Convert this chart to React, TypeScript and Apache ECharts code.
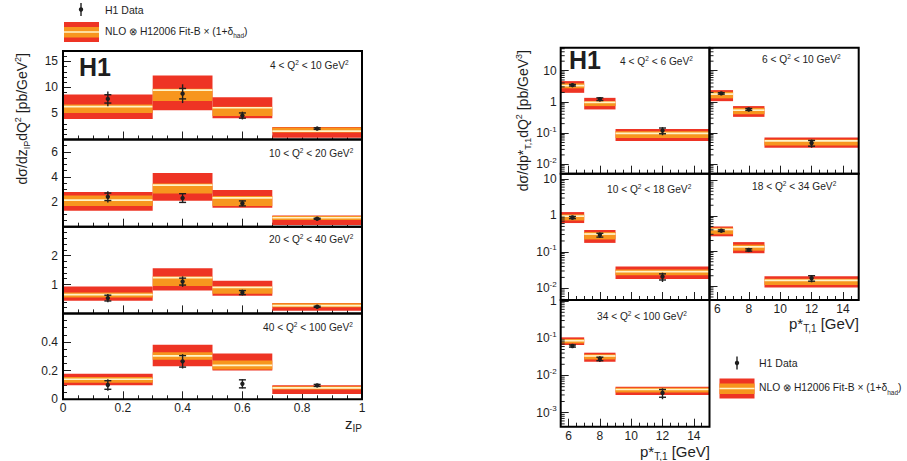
import React, { useEffect, useRef } from 'react';
import * as echarts from 'echarts';

const FONT = '"Liberation Sans", Arial, Helvetica, sans-serif';
const RED = '#ee3424';
const ORANGE = '#f7961e';
const CREAM = '#fff4c8';
const INK = '#1e1e1e';

// ---------- Left figure: d sigma / dz_IP dQ2 ----------
const zipEdges = [0, 0.3, 0.5, 0.7, 1.0];
const zipCenters = [0.15, 0.4, 0.6, 0.85];
const zipQ2Labels = [
  '4 < Q{s|2} < 10 GeV{s|2}',
  '10 < Q{s|2} < 20 GeV{s|2}',
  '20 < Q{s|2} < 40 GeV{s|2}',
  '40 < Q{s|2} < 100 GeV{s|2}',
];
const zipData = [
  [7.8, 8.8, 4.6, 2.1],
  [2.4, 2.3, 1.87, 0.64],
  [0.53, 1.1, 0.72, 0.23],
  [0.1, 0.265, 0.108, 0.097],
];
const zipStat = [
  [0.8, 1.0, 0.5, 0.15],
  [0.3, 0.35, 0.2, 0.04],
  [0.1, 0.12, 0.07, 0.02],
  [0.03, 0.04, 0.028, 0.007],
];
const zipTot = [
  [1.4, 1.8, 0.75, 0.25],
  [0.45, 0.4, 0.23, 0.06],
  [0.14, 0.18, 0.1, 0.03],
  [0.04, 0.05, 0.032, 0.009],
];
const zipRedLo = [
  [3.94, 5.6, 4.1, 0.33],
  [1.28, 2.08, 1.52, 0.14],
  [0.44, 0.79, 0.61, 0.09],
  [0.099, 0.23, 0.202, 0.037],
];
const zipRedHi = [
  [8.66, 12.3, 8.1, 2.4],
  [2.78, 4.32, 2.94, 0.9],
  [0.93, 1.56, 1.13, 0.36],
  [0.179, 0.381, 0.32, 0.099],
];
const zipOrLo = [
  [5.1, 7.4, 4.5, 1.35],
  [1.66, 2.67, 1.66, 0.54],
  [0.55, 0.95, 0.68, 0.21],
  [0.115, 0.276, 0.209, 0.069],
];
const zipOrHi = [
  [6.72, 9.77, 6.3, 2.3],
  [2.5, 3.47, 2.46, 0.86],
  [0.72, 1.28, 0.93, 0.35],
  [0.156, 0.328, 0.271, 0.092],
];
const zipNlo = [
  [6.3, 9.5, 6.1, 1.6],
  [2.14, 3.33, 2.32, 0.72],
  [0.65, 1.24, 0.9, 0.27],
  [0.14, 0.303, 0.237, 0.08],
];
const zipYMax = [17, 7, 3, 0.6];
const zipYInterval = [5, 2, 1, 0.2];
const zipYMinorSplit = [5, 4, 5, 4];

// ---------- Right figure: d sigma / dp*T,1 dQ2 ----------
const ptEdges = [5.5, 7, 9, 15];
const ptCenters = [6.25, 8, 12];
const ptQ2Labels = [
  '4 < Q{s|2} < 6 GeV{s|2}',
  '6 < Q{s|2} < 10 GeV{s|2}',
  '10 < Q{s|2} < 18 GeV{s|2}',
  '18 < Q{s|2} < 34 GeV{s|2}',
  '34 < Q{s|2} < 100 GeV{s|2}',
];
const ptData = [
  [3.4, 1.22, 0.12],
  [1.86, 0.57, 0.048],
  [0.88, 0.29, 0.021],
  [0.38, 0.108, 0.017],
  [0.062, 0.028, 0.0034],
];
const ptStat = [
  [0.2, 0.12, 0.025],
  [0.1, 0.04, 0.01],
  [0.06, 0.035, 0.004],
  [0.02, 0.008, 0.003],
  [0.004, 0.003, 0.0008],
];
const ptTot = [
  [0.35, 0.2, 0.035],
  [0.18, 0.07, 0.014],
  [0.1, 0.05, 0.006],
  [0.03, 0.013, 0.004],
  [0.006, 0.005, 0.0011],
];
const ptRedLo = [
  [1.94, 0.57, 0.056],
  [1.05, 0.33, 0.034],
  [0.62, 0.177, 0.018],
  [0.263, 0.087, 0.0093],
  [0.066, 0.0234, 0.003],
];
const ptRedHi = [
  [4.6, 1.34, 0.136],
  [2.37, 0.73, 0.072],
  [1.24, 0.4, 0.04],
  [0.5, 0.18, 0.0193],
  [0.106, 0.041, 0.005],
];
const ptOrLo = [
  [2.7, 0.73, 0.07],
  [1.29, 0.4, 0.04],
  [0.73, 0.22, 0.023],
  [0.3, 0.103, 0.011],
  [0.073, 0.027, 0.0035],
];
const ptOrHi = [
  [3.9, 1.05, 0.115],
  [2.09, 0.64, 0.062],
  [1.07, 0.35, 0.033],
  [0.46, 0.152, 0.0163],
  [0.096, 0.037, 0.0047],
];
const ptNlo = [
  [3.3, 0.96, 0.097],
  [1.77, 0.54, 0.056],
  [0.96, 0.31, 0.029],
  [0.41, 0.132, 0.0147],
  [0.086, 0.0335, 0.0042],
];
const ptYMin = [0.005, 0.005, 0.0048, 0.0041, 0.00042];
const ptYMax = [54, 54, 14, 15.7, 1.07];

// ---------- layout ----------
const LEFT_X0 = 63;
const LEFT_W = 299;
const LEFT_ROWS = [51, 139.5, 226.7, 313.4, 399.3];
const RIGHT_COLS = [560.7, 709.5, 858.7];
const RIGHT_ROWS = [47.7, 173.7, 300, 426.7];
const RIGHT_PANELS = [
  { row: 0, col: 0 },
  { row: 0, col: 1 },
  { row: 1, col: 0 },
  { row: 1, col: 1 },
  { row: 2, col: 0 },
];
const RIGHT_LABEL_POS = [
  [620, 61],
  [762, 59],
  [607, 189],
  [752, 186],
  [597, 316],
];
const LEFT_LABEL_POS = [
  [270, 65],
  [269, 153],
  [269, 239],
  [263, 327],
];

const supRich = {
  n: { fontSize: 10.2, fontFamily: FONT, fill: INK, color: INK, lineHeight: 13 },
  s: { fontSize: 6.5, fontFamily: FONT, fill: INK, color: INK, verticalAlign: 'top', lineHeight: 13 },
};

function bandItem(params: any, api: any) {
  const x0 = api.value(0);
  const x1 = api.value(1);
  const a = api.coord([x0, api.value(3)]);
  const b = api.coord([x1, api.value(2)]);
  const c = api.coord([x0, api.value(5)]);
  const d = api.coord([x1, api.value(4)]);
  const e = api.coord([x0, api.value(6)]);
  const f = api.coord([x1, api.value(6)]);
  return {
    type: 'group',
    children: [
      { type: 'rect', shape: { x: a[0], y: a[1], width: b[0] - a[0], height: b[1] - a[1] }, style: { fill: RED } },
      { type: 'rect', shape: { x: c[0], y: c[1], width: d[0] - c[0], height: d[1] - c[1] }, style: { fill: ORANGE } },
      { type: 'line', shape: { x1: e[0], y1: e[1], x2: f[0], y2: f[1] }, style: { stroke: CREAM, lineWidth: 1.7 } },
    ],
  };
}

function errItem(params: any, api: any) {
  const x = api.value(0);
  const c = api.coord([x, api.value(1)]);
  const sLo = api.coord([x, api.value(2)]);
  const sHi = api.coord([x, api.value(3)]);
  const tLo = api.coord([x, api.value(4)]);
  const tHi = api.coord([x, api.value(5)]);
  const w = 3.5;
  const st = { stroke: INK, lineWidth: 1.4 };
  return {
    type: 'group',
    children: [
      { type: 'line', shape: { x1: tLo[0], y1: tLo[1], x2: tHi[0], y2: tHi[1] }, style: st },
      { type: 'line', shape: { x1: sLo[0] - w, y1: sLo[1], x2: sLo[0] + w, y2: sLo[1] }, style: st },
      { type: 'line', shape: { x1: sHi[0] - w, y1: sHi[1], x2: sHi[0] + w, y2: sHi[1] }, style: st },
      { type: 'circle', shape: { cx: c[0], cy: c[1], r: 2.2 }, style: { fill: INK } },
    ],
  };
}

function minorTickItem(params: any, api: any) {
  const p = api.coord([api.value(0), api.value(1)]);
  return { type: 'line', shape: { x1: p[0], y1: p[1], x2: p[0] + 4, y2: p[1] }, style: { stroke: INK, lineWidth: 1 } };
}

function logLabel(v: number) {
  const e = Math.log10(v);
  const r = Math.round(e);
  if (Math.abs(e - r) > 1e-6) return '';
  if (r === 0) return '{n|1}';
  if (r === 1) return '{n|10}';
  return '{n|10}{s|' + r + '}';
}

function buildOption() {
  const grid: any[] = [];
  const xAxis: any[] = [];
  const yAxis: any[] = [];
  const series: any[] = [];
  const graphic: any[] = [];

  const tickStyle = { color: INK, width: 1 };
  const labelBase = { fontFamily: FONT, fontSize: 12, color: INK };

  // ----- left panels -----
  for (let p = 0; p < 4; p++) {
    const top = LEFT_ROWS[p];
    const h = LEFT_ROWS[p + 1] - LEFT_ROWS[p];
    grid.push({ left: LEFT_X0, top, width: LEFT_W, height: h });
    const gi = grid.length - 1;
    const isBottom = p === 3;
    xAxis.push({
      gridIndex: gi, type: 'value', min: 0, max: 1, interval: 0.2,
      axisLine: { show: false },
      axisTick: { inside: true, length: 8, lineStyle: tickStyle },
      minorTick: { show: true, splitNumber: 4, length: 4, lineStyle: tickStyle },
      splitLine: { show: false },
      axisLabel: { show: isBottom, margin: 3, ...labelBase },
    });
    const ymax = zipYMax[p];
    yAxis.push({
      gridIndex: gi, type: 'value', min: 0, max: ymax, interval: zipYInterval[p],
      axisLine: { show: false },
      axisTick: { inside: true, length: 8, lineStyle: tickStyle },
      minorTick: { show: true, splitNumber: zipYMinorSplit[p], length: 4, lineStyle: tickStyle },
      splitLine: { show: false },
      axisLabel: {
        margin: 5, ...labelBase, showMaxLabel: false,
        formatter: (v: number) => {
          if (v >= ymax - 1e-9) return '';
          if (v === 0 && !isBottom) return '';
          return String(Math.round(v * 1000) / 1000);
        },
      },
    });
    series.push({
      type: 'custom', xAxisIndex: gi, yAxisIndex: gi, silent: true, z: 2,
      renderItem: bandItem,
      encode: { x: [0, 1], y: [2, 3, 4, 5, 6] },
      data: zipCenters.map((_, i) => [zipEdges[i], zipEdges[i + 1], zipRedLo[p][i], zipRedHi[p][i], zipOrLo[p][i], zipOrHi[p][i], zipNlo[p][i]]),
    });
    series.push({
      type: 'custom', xAxisIndex: gi, yAxisIndex: gi, silent: true, z: 3,
      renderItem: errItem,
      encode: { x: 0, y: [1, 2, 3, 4, 5] },
      data: zipCenters.map((x, i) => [
        x, zipData[p][i],
        zipData[p][i] - zipStat[p][i], zipData[p][i] + zipStat[p][i],
        zipData[p][i] - zipTot[p][i], zipData[p][i] + zipTot[p][i],
      ]),
    });
    graphic.push({ type: 'rect', z: 100, silent: true, shape: { x: LEFT_X0, y: top, width: LEFT_W, height: h }, style: { fill: 'none', stroke: '#000', lineWidth: 2 } });
    graphic.push({
      type: 'text', z: 100, x: LEFT_LABEL_POS[p][0], y: LEFT_LABEL_POS[p][1],
      style: { text: zipQ2Labels[p], rich: supRich, fontSize: 10.2, fontFamily: FONT, fill: INK, verticalAlign: 'middle', align: 'left' },
    });
  }

  // ----- right panels -----
  RIGHT_PANELS.forEach((pp, p) => {
    const left = RIGHT_COLS[pp.col];
    const w = RIGHT_COLS[pp.col + 1] - RIGHT_COLS[pp.col];
    const top = RIGHT_ROWS[pp.row];
    const h = RIGHT_ROWS[pp.row + 1] - RIGHT_ROWS[pp.row];
    grid.push({ left, top, width: w, height: h });
    const gi = grid.length - 1;
    const showX = p === 3 || p === 4;
    const showY = pp.col === 0;
    xAxis.push({
      gridIndex: gi, type: 'value', min: ptEdges[0], max: ptEdges[ptEdges.length - 1], splitNumber: 5,
      axisLine: { show: false },
      axisTick: { inside: true, length: 8, lineStyle: tickStyle },
      minorTick: { show: true, splitNumber: 4, length: 4, lineStyle: tickStyle },
      splitLine: { show: false },
      axisLabel: {
        show: showX, margin: 3, ...labelBase,
        formatter: (v: number) => (Math.abs(v - Math.round(v)) < 1e-9 && Math.round(v) % 2 === 0 ? String(Math.round(v)) : ''),
      },
    });
    const ymin = ptYMin[p];
    const ymax = ptYMax[p];
    yAxis.push({
      gridIndex: gi, type: 'log', logBase: 10, min: ymin, max: ymax,
      axisLine: { show: false },
      axisTick: { inside: true, length: 8, lineStyle: tickStyle },
      minorTick: { show: false },
      splitLine: { show: false },
      axisLabel: {
        show: showY, margin: 4, fontFamily: FONT, fontSize: 12, color: INK,
        formatter: logLabel,
        rich: {
          n: { fontSize: 12, fontFamily: FONT, color: INK, lineHeight: 16 },
          s: { fontSize: 8, fontFamily: FONT, color: INK, verticalAlign: 'top', lineHeight: 16 },
        },
      },
    });
    // minor log ticks (2..9 x 10^n) on the left axis
    const minorVals: number[][] = [];
    for (let e = Math.floor(Math.log10(ymin)); e <= Math.ceil(Math.log10(ymax)); e++) {
      for (let k = 2; k <= 9; k++) {
        const v = k * Math.pow(10, e);
        if (v > ymin && v < ymax) minorVals.push([ptEdges[0], v]);
      }
    }
    series.push({
      type: 'custom', xAxisIndex: gi, yAxisIndex: gi, silent: true, z: 4,
      renderItem: minorTickItem, encode: { x: 0, y: 1 }, data: minorVals,
    });
    series.push({
      type: 'custom', xAxisIndex: gi, yAxisIndex: gi, silent: true, z: 2,
      renderItem: bandItem,
      encode: { x: [0, 1], y: [2, 3, 4, 5, 6] },
      data: ptCenters.map((_, i) => [ptEdges[i], ptEdges[i + 1], ptRedLo[p][i], ptRedHi[p][i], ptOrLo[p][i], ptOrHi[p][i], ptNlo[p][i]]),
    });
    series.push({
      type: 'custom', xAxisIndex: gi, yAxisIndex: gi, silent: true, z: 3,
      renderItem: errItem,
      encode: { x: 0, y: [1, 2, 3, 4, 5] },
      data: ptCenters.map((x, i) => [
        x, ptData[p][i],
        ptData[p][i] - ptStat[p][i], ptData[p][i] + ptStat[p][i],
        ptData[p][i] - ptTot[p][i], ptData[p][i] + ptTot[p][i],
      ]),
    });
    graphic.push({ type: 'rect', z: 100, silent: true, shape: { x: left, y: top, width: w, height: h }, style: { fill: 'none', stroke: '#000', lineWidth: 2 } });
    graphic.push({
      type: 'text', z: 100, x: RIGHT_LABEL_POS[p][0], y: RIGHT_LABEL_POS[p][1],
      style: { text: ptQ2Labels[p], rich: supRich, fontSize: 10.2, fontFamily: FONT, fill: INK, verticalAlign: 'middle', align: 'left' },
    });
  });

  const titleRich = {
    n: { fontSize: 14, fontFamily: FONT, fill: INK, color: INK, lineHeight: 18 },
    sub: { fontSize: 9, fontFamily: FONT, fill: INK, color: INK, verticalAlign: 'bottom', lineHeight: 18 },
    sup: { fontSize: 9, fontFamily: FONT, fill: INK, color: INK, verticalAlign: 'top', lineHeight: 18 },
  };
  const xTitleRich = {
    n: { fontSize: 15, fontFamily: FONT, fill: INK, color: INK, lineHeight: 18 },
    sub: { fontSize: 10, fontFamily: FONT, fill: INK, color: INK, verticalAlign: 'bottom', lineHeight: 20 },
  };

  // H1 logos
  graphic.push({ type: 'text', z: 100, x: 79, y: 67, style: { text: 'H1', fontSize: 25, fontWeight: 'bold', fontFamily: FONT, fill: INK, verticalAlign: 'middle' } });
  graphic.push({ type: 'text', z: 100, x: 569, y: 60, style: { text: 'H1', fontSize: 25, fontWeight: 'bold', fontFamily: FONT, fill: INK, verticalAlign: 'middle' } });

  // Axis titles
  graphic.push({
    type: 'text', z: 100, x: 22, y: 53, rotation: Math.PI / 2,
    style: { text: '{n|dσ/dz}{sub|IP}{n|dQ}{sup|2}{n| [pb/GeV}{sup|2}{n|]}', rich: titleRich, align: 'right', verticalAlign: 'middle' },
  });
  graphic.push({
    type: 'text', z: 100, x: 523, y: 50, rotation: Math.PI / 2,
    style: { text: '{n|dσ/dp*}{sub|T,1}{n|dQ}{sup|2}{n| [pb/GeV}{sup|3}{n|]}', rich: titleRich, align: 'right', verticalAlign: 'middle' },
  });
  graphic.push({
    type: 'text', z: 100, x: 362, y: 423,
    style: { text: '{n|z}{sub|IP}', rich: xTitleRich, align: 'right', verticalAlign: 'middle' },
  });
  graphic.push({
    type: 'text', z: 100, x: 859, y: 323,
    style: { text: '{n|p*}{sub|T,1}{n| [GeV]}', rich: xTitleRich, align: 'right', verticalAlign: 'middle' },
  });
  graphic.push({
    type: 'text', z: 100, x: 710, y: 451,
    style: { text: '{n|p*}{sub|T,1}{n| [GeV]}', rich: xTitleRich, align: 'right', verticalAlign: 'middle' },
  });

  // Legends
  const legendRich = {
    n: { fontSize: 10.3, fontFamily: FONT, fill: INK, color: INK, lineHeight: 14 },
    sub: { fontSize: 6.5, fontFamily: FONT, fill: INK, color: INK, verticalAlign: 'bottom', lineHeight: 16 },
  };
  function legend(mx: number, my: number, bx: number, by: number, tx: number) {
    graphic.push({ type: 'line', z: 100, shape: { x1: mx, y1: my - 6.5, x2: mx, y2: my + 6.5 }, style: { stroke: INK, lineWidth: 1.4 } });
    graphic.push({ type: 'circle', z: 100, shape: { cx: mx, cy: my, r: 2.2 }, style: { fill: INK } });
    graphic.push({ type: 'text', z: 100, x: tx, y: my, style: { text: 'H1 Data', fontSize: 10.5, fontFamily: FONT, fill: INK, verticalAlign: 'middle' } });
    graphic.push({ type: 'rect', z: 100, shape: { x: bx, y: by, width: 35, height: 20 }, style: { fill: RED } });
    graphic.push({ type: 'rect', z: 100, shape: { x: bx, y: by + 5, width: 35, height: 10.5 }, style: { fill: ORANGE } });
    graphic.push({ type: 'line', z: 100, shape: { x1: bx, y1: by + 10, x2: bx + 35, y2: by + 10 }, style: { stroke: CREAM, lineWidth: 1.7 } });
    graphic.push({
      type: 'text', z: 100, x: tx, y: by + 9,
      style: { text: '{n|NLO ⊗ H12006 Fit-B × (1+δ}{sub|had}{n|)}', rich: legendRich, verticalAlign: 'middle' },
    });
  }
  legend(81, 9.5, 64, 22, 105);
  legend(737, 363, 719.5, 378.5, 759);

  return { animation: false, backgroundColor: '#fff', grid, xAxis, yAxis, series, graphic };
}

export default function App() {
  const ref = useRef<HTMLDivElement>(null);
  useEffect(() => {
    const chart = echarts.init(ref.current!, null, { renderer: 'svg' });
    chart.setOption(buildOption() as any);
    return () => chart.dispose();
  }, []);
  return (
    <div
      ref={ref}
      style={{ position: 'fixed', left: 0, top: 0, width: 907, height: 461, background: '#fff' }}
    />
  );
}
